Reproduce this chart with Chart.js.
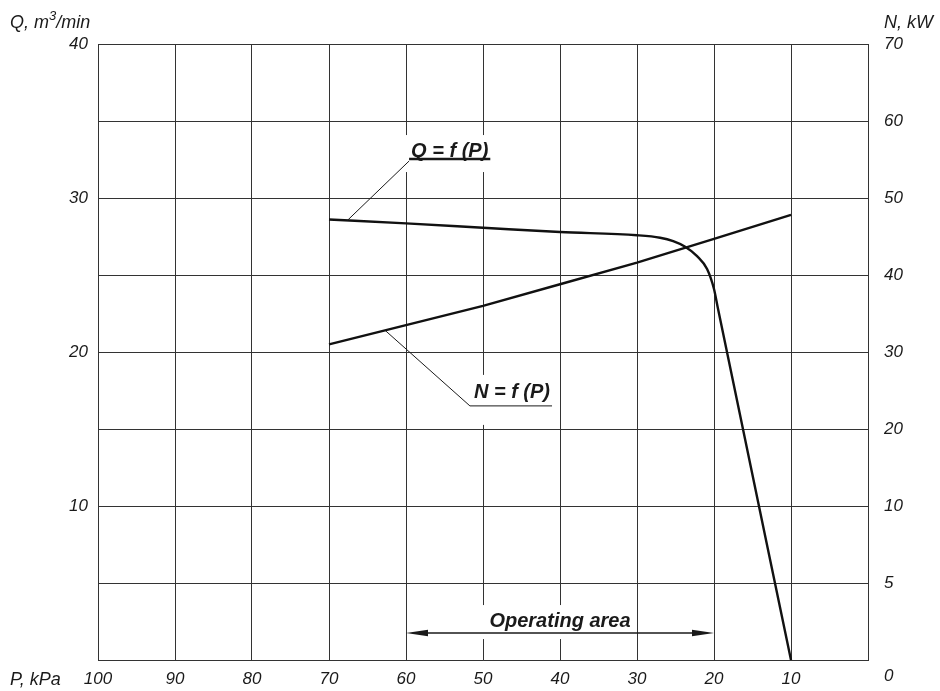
<!DOCTYPE html>
<html>
<head>
<meta charset="utf-8">
<script src="https://cdn.jsdelivr.net/npm/chart.js@4"></script>
<style>
  html, body { margin: 0; padding: 0; background: #fff; }
</style>
</head>
<body>
<canvas id="chart" width="940" height="691"></canvas>
<script>
// Q = f(P): flow, m3/min, against pressure, kPa
const qPressure = [70, 60, 50, 40, 30, 27, 25.3, 23.8, 22.2, 20.9, 20, 19.5, 10]
const qFlow = [28.6, 28.35, 28.07, 27.79, 27.58, 27.42, 27.2, 26.85, 26.23, 25.39, 24.09, 22.85, 0]

// N = f(P): power, kW, against pressure, kPa
const nPressure = [70, 60, 50, 40, 30, 20, 10]
const nPower = [31.0, 33.5, 36.0, 38.8, 41.6, 44.7, 47.8]

// axis labels
const pTicks = [100, 90, 80, 70, 60, 50, 40, 30, 20, 10]
const qTicks = [10, 20, 30, 40]
const nTickLabels = { '-10': '', '0': '5' }
const nBottomLabel = '0'

// annotations, in data units
const qNote = { text: 'Q = f (P)', from: [67.6, 28.55], to: [59.6, 32.4] }
const nNote = { text: 'N = f (P)', from: [62.7, 32.8], to: [51.7, 16.5] }
const operating = { text: 'Operating area', from: 60, to: 20, level: 1.75 }

const FONT = '"Liberation Sans", Arial, sans-serif'
const INK = '#1a1a1a'
const GRID = '#333'

Chart.defaults.font.family = FONT
Chart.defaults.color = INK

const ctx = document.getElementById('chart').getContext('2d')

function drawArrowHead(c, x, y, dir) {
    c.beginPath()
    c.moveTo(x, y)
    c.lineTo(x - dir * 22, y - 3.2)
    c.lineTo(x - dir * 22, y + 3.2)
    c.closePath()
    c.fill()
}

const notesPlugin = {
    id: 'notes',
    beforeDatasetsDraw(chart) {
        const c = chart.ctx
        const x = chart.scales.x, y = chart.scales.y
        c.save()
        c.fillStyle = '#fff'
        c.font = 'italic bold 20px ' + FONT
        // white boxes under the labels break the grid
        let ex = x.getPixelForValue(qNote.to[0]), ey = y.getPixelForValue(qNote.to[1])
        let w = c.measureText(qNote.text).width
        c.fillRect(ex - 6, ey - 26, w + 12, 37)
        ex = x.getPixelForValue(nNote.to[0]); ey = y.getPixelForValue(nNote.to[1])
        w = c.measureText(nNote.text).width
        c.fillRect(ex - 2, ey - 31, w + 12, 50)
        const mx = (x.getPixelForValue(operating.from) + x.getPixelForValue(operating.to)) / 2
        const oy = y.getPixelForValue(operating.level)
        w = c.measureText(operating.text).width
        c.fillRect(mx - w / 2 - 12, oy - 28, w + 16, 34)
        c.restore()
    },
    afterDatasetsDraw(chart) {
        const c = chart.ctx
        const x = chart.scales.x, y = chart.scales.y, y1 = chart.scales.y1
        const area = chart.chartArea
        c.save()
        c.strokeStyle = INK
        c.fillStyle = INK
        c.lineWidth = 1
        c.font = 'italic bold 20px ' + FONT
        c.textBaseline = 'alphabetic'

        // Q label
        let ax = x.getPixelForValue(qNote.from[0]), ay = y.getPixelForValue(qNote.from[1])
        let ex = x.getPixelForValue(qNote.to[0]), ey = y.getPixelForValue(qNote.to[1])
        let w = c.measureText(qNote.text).width
        c.beginPath(); c.moveTo(ax, ay); c.lineTo(ex, ey); c.stroke()
        c.fillText(qNote.text, ex + 2, ey - 4)
        c.lineWidth = 2.6
        c.beginPath(); c.moveTo(ex, ey - 2); c.lineTo(ex + w + 4, ey - 2); c.stroke()

        // N label
        c.lineWidth = 1
        ax = x.getPixelForValue(nNote.from[0]); ay = y1.getPixelForValue(nNote.from[1])
        ex = x.getPixelForValue(nNote.to[0]); ey = y.getPixelForValue(nNote.to[1])
        w = c.measureText(nNote.text).width
        c.beginPath(); c.moveTo(ax, ay); c.lineTo(ex, ey); c.lineTo(ex + w + 6, ey); c.stroke()
        c.fillText(nNote.text, ex + 4, ey - 8)

        // operating area arrow
        const x1 = x.getPixelForValue(operating.from), x2 = x.getPixelForValue(operating.to)
        const oy = y.getPixelForValue(operating.level)
        c.lineWidth = 1.4
        c.beginPath(); c.moveTo(x1 + 10, oy); c.lineTo(x2 - 10, oy); c.stroke()
        drawArrowHead(c, x1, oy, -1)
        drawArrowHead(c, x2, oy, 1)
        c.textAlign = 'center'
        c.fillText(operating.text, (x1 + x2) / 2, oy - 6)

        // axis titles and the bottom N label
        c.textAlign = 'left'
        c.font = 'italic 18px ' + FONT
        let tx = 10, ty = area.top - 16
        c.fillText('Q, m', tx, ty)
        tx += c.measureText('Q, m').width
        c.font = 'italic 13px ' + FONT
        c.fillText('3', tx, ty - 8)
        tx += c.measureText('3').width
        c.font = 'italic 18px ' + FONT
        c.fillText('/min', tx, ty)
        c.fillText('N, kW', area.right + 16, ty)
        c.fillText('P, kPa', 10, area.bottom + 25)
        c.font = 'italic 17px ' + FONT
        c.fillText(nBottomLabel, area.right + 16, area.bottom + 21)
        c.restore()
    }
}

new Chart(ctx, {
    type: 'line',
    data: {
        datasets: [{
            label: 'Q = f (P)',
            data: qPressure.map((p, i) => ({ x: p, y: qFlow[i] })),
            yAxisID: 'y',
            borderColor: '#111',
            borderWidth: 2.4,
            pointRadius: 0,
            cubicInterpolationMode: 'monotone',
            fill: false
        }, {
            label: 'N = f (P)',
            data: nPressure.map((p, i) => ({ x: p, y: nPower[i] })),
            yAxisID: 'y1',
            borderColor: '#111',
            borderWidth: 2.4,
            pointRadius: 0,
            tension: 0,
            fill: false
        }]
    },
    options: {
        responsive: false,
        animation: false,
        layout: { padding: { top: 44 } },
        plugins: {
            legend: { display: false },
            tooltip: { enabled: false }
        },
        scales: {
            x: {
                type: 'linear',
                reverse: true,
                min: 0,
                max: 100,
                afterFit(scale) { scale.height = 31 },
                ticks: {
                    stepSize: 10,
                    autoSkip: false,
                    maxRotation: 0,
                    padding: 9,
                    font: { size: 17, style: 'italic' },
                    callback: v => pTicks.includes(v) ? String(v) : ''
                },
                grid: { color: GRID, lineWidth: 1, drawTicks: false },
                border: { color: GRID }
            },
            y: {
                position: 'left',
                min: 0,
                max: 40,
                afterFit(scale) { scale.width = 98 },
                ticks: {
                    stepSize: 5,
                    autoSkip: false,
                    padding: 10,
                    font: { size: 17, style: 'italic' },
                    callback: v => qTicks.includes(v) ? String(v) : ''
                },
                grid: { color: GRID, lineWidth: 1, drawTicks: false },
                border: { color: GRID }
            },
            y1: {
                position: 'right',
                min: -10,
                max: 70,
                afterFit(scale) { scale.width = 72 },
                ticks: {
                    stepSize: 10,
                    autoSkip: false,
                    padding: 16,
                    font: { size: 17, style: 'italic' },
                    callback: v => nTickLabels[v] !== undefined ? nTickLabels[v] : String(v)
                },
                grid: { drawOnChartArea: false, drawTicks: false },
                border: { color: GRID }
            }
        }
    },
    plugins: [notesPlugin]
})
</script>
</body>
</html>
